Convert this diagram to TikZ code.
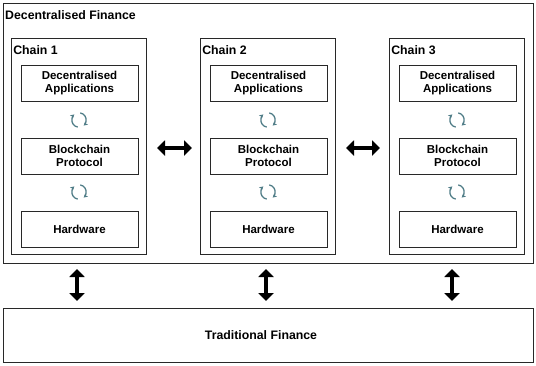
\documentclass[tikz,border=0pt]{standalone}
\usepackage{fontspec}
\setmainfont{Liberation Sans}
\usetikzlibrary{arrows.meta}
\definecolor{edge}{RGB}{40,40,40}
\definecolor{sync}{RGB}{80,125,135}
\tikzset{
  frame/.style={draw=edge, line width=0.8pt, inner sep=0pt},
  chainbox/.style={frame, minimum width=135pt, minimum height=216pt},
  layerbox/.style={frame, minimum width=117pt, minimum height=36pt, align=center,
    font=\bfseries\fontsize{11.5}{13}\selectfont},
  ttl/.style={anchor=base west, inner sep=0pt, font=\bfseries\fontsize{12.3}{14}\selectfont},
  bigarrows/.style={line width=4.5pt, {Triangle[width=15pt,length=8pt]}-{Triangle[width=15pt,length=8pt]}},
  syncarc/.style={sync, line width=1.3pt, -{Stealth[length=4pt,width=4.5pt]}}
}
\begin{document}
\begin{tikzpicture}[x=1pt,y=-1pt]
\useasboundingbox (0,0) rectangle (536,365);
% outer DeFi frame
\node[frame, anchor=north west, minimum width=530pt, minimum height=260pt] (defi) at (3,3) {};
\node[ttl] (defititle) at (5,19.5) {Decentralised Finance};
% traditional finance
\node[frame, anchor=north west, minimum width=530pt, minimum height=54pt] (tradfi) at (3,308) {};
\node[inner sep=0pt, font=\bfseries\fontsize{12.3}{14}\selectfont] (tradfititle) at (261,335) {Traditional Finance};
% chains
\foreach \i/\cx in {1/79, 2/268, 3/457}{
  \node[chainbox] (chain\i) at (\cx,146) {};
  \node[ttl] (chaintitle\i) at ([xshift=2pt,yshift=-17pt]chain\i.north west) {Chain \i};
  \node[layerbox] (dapp\i) at (\cx+0.5,83) {Decentralised\\Applications};
  \node[layerbox] (proto\i) at (\cx+0.5,156) {Blockchain\\Protocol};
  \node[layerbox] (hw\i) at (\cx+0.5,229) {Hardware};
  \coordinate (syncA\i) at (\cx,120);
  \coordinate (syncB\i) at (\cx,192);
  \foreach \s in {syncA\i, syncB\i}{
    \draw[syncarc] ([shift={(80:7.2pt)}]\s) arc[start angle=80, end angle=-50, radius=7.2pt];
    \draw[syncarc] ([shift={(260:7.2pt)}]\s) arc[start angle=260, end angle=130, radius=7.2pt];
  }
}
% horizontal chain arrows
\coordinate (h1a) at (157,148);
\coordinate (h1b) at (192,148);
\coordinate (h2a) at (346,148);
\coordinate (h2b) at (380,148);
\draw[bigarrows] (h1a) -- (h1b);
\draw[bigarrows] (h2a) -- (h2b);
% vertical arrows to traditional finance
\foreach \i/\vx in {1/77, 2/266, 3/452}{
  \coordinate (va\i) at (\vx,269);
  \coordinate (vb\i) at (\vx,301);
  \draw[bigarrows] (va\i) -- (vb\i);
}
\end{tikzpicture}
\end{document}
